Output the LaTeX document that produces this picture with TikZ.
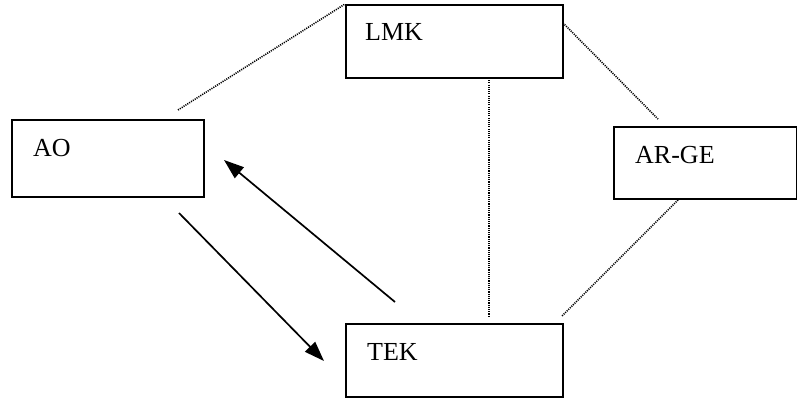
\documentclass[tikz,border=0pt]{standalone}
\usepackage{fontspec}
\setmainfont{Liberation Serif}
\usetikzlibrary{arrows.meta,calc}
\begin{document}
\begin{tikzpicture}[x=1pt,y=-1pt,
  box/.style={draw,line width=1.8pt,inner sep=0pt,anchor=north west},
  lbl/.style={inner sep=0pt,anchor=base west,font=\fontsize{26}{30}\selectfont},
  dotline/.style={line width=1.6pt,dash pattern=on 1.1pt off 1.1pt},
  arr/.style={line width=1.7pt,-{Triangle[length=20pt,width=14pt]}}]
\useasboundingbox (0,0) rectangle (797,401);
% boxes
\node[box,minimum width=192pt,minimum height=77pt] (AO) at (11,119) {};
\node[box,minimum width=217pt,minimum height=73pt] (LMK) at (345,4) {};
\node[box,minimum width=183pt,minimum height=72pt] (ARGE) at (613,126) {};
\node[box,minimum width=217pt,minimum height=73pt] (TEK) at (345,323) {};
% labels
\node[lbl] (AOt) at ($(AO.north west)+(22,37)$) {AO};
\node[lbl] (LMKt) at ($(LMK.north west)+(20,37)$) {LMK};
\node[lbl] (ARGEt) at ($(ARGE.north west)+(22,37)$) {AR-GE};
\node[lbl] (TEKt) at ($(TEK.north west)+(22,37)$) {TEK};
% free ends
\coordinate (d1) at (178,110);
\coordinate (d2) at (563,23);
\coordinate (d3) at (658,119);
\coordinate (d4) at (678,200);
\coordinate (d5) at (562,316);
\coordinate (v1) at (489,78);
\coordinate (v2) at (489,317);
\coordinate (a1s) at (395,302);
\coordinate (a1e) at (224,160);
\coordinate (a2s) at (179,213);
\coordinate (a2e) at (324,361);
% dotted connectors
\draw[dotline] (d1) -- (LMK.north west);
\draw[dotline] (d2) -- (d3);
\draw[dotline] (v1) -- (v2);
\draw[dotline] (d4) -- (d5);
% arrows
\draw[arr] (a1s) -- (a1e);
\draw[arr] (a2s) -- (a2e);
\end{tikzpicture}
\end{document}
